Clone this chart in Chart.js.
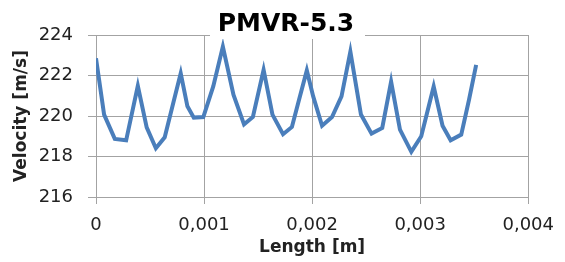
<!DOCTYPE html>
<html>
<head>
<meta charset="utf-8">
<script src="https://cdn.jsdelivr.net/npm/chart.js@4/dist/chart.umd.min.js"></script>
<style>
  html, body { margin: 0; padding: 0; background: #fff; }
  #wrap { width: 565px; height: 262px; }
</style>
</head>
<body>
<div id="wrap"><canvas id="chart" width="565" height="262"></canvas></div>
<script>
// Length along the part [m]
const lengths = [
  0.000000, 0.000075, 0.000174, 0.000279, 0.000387, 0.000469, 0.000554, 0.000636,
  0.000715, 0.000784, 0.000846, 0.000905, 0.000993, 0.001085, 0.001174, 0.001272,
  0.001370, 0.001452, 0.001551, 0.001633, 0.001731, 0.001813, 0.001879, 0.001951,
  0.002010, 0.002092, 0.002184, 0.002272, 0.002354, 0.002452, 0.002550, 0.002649,
  0.002731, 0.002813, 0.002918, 0.003010, 0.003125, 0.003207, 0.003282, 0.003380,
  0.003452, 0.003518
];

// Velocity [m/s]
const velocities = [
  222.85, 220.07, 218.87, 218.80, 221.49, 219.44, 218.41, 218.95,
  220.64, 222.11, 220.48, 219.92, 219.95, 221.46, 223.43, 221.05,
  219.59, 219.95, 222.28, 220.07, 219.10, 219.46, 220.80, 222.25,
  220.97, 219.52, 219.95, 220.97, 223.18, 220.07, 219.13, 219.41,
  221.70, 219.33, 218.23, 219.00, 221.46, 219.52, 218.80, 219.08,
  220.80, 222.52
];

const xTicks = [0, 0.001, 0.002, 0.003, 0.004];
const yTicks = [216, 218, 220, 222, 224];

const chartTitle = 'PMVR-5.3';
const xTitle = 'Length [m]';
const yTitle = 'Velocity [m/s]';

const gridColor = '#a3a3a3';
const lineColor = '#4a7ebb';

// title sits on top of the plot frame with a white box behind it
const titlePlugin = {
    id: 'boxTitle',
    afterDraw(chart) {
        const ctx = chart.ctx;
        ctx.save();
        ctx.fillStyle = '#ffffff';
        ctx.fillRect(210, 29, 155, 10);
        ctx.fillStyle = '#000000';
        ctx.font = 'bold 25px "DejaVu Sans"';
        ctx.textAlign = 'center';
        ctx.textBaseline = 'middle';
        ctx.fillText(chartTitle, 286, 24);
        ctx.restore();
    }
};

const points = lengths.map((x, i) => ({ x: x, y: velocities[i] }));

new Chart(document.getElementById('chart').getContext('2d'), {
    type: 'line',
    data: {
        datasets: [{
            data: points,
            borderColor: lineColor,
            borderWidth: 4,
            pointRadius: 0,
            tension: 0,
            fill: false
        }]
    },
    options: {
        responsive: false,
        animation: false,
        layout: { padding: { top: 35, right: 29, bottom: 0, left: 0 } },
        plugins: {
            legend: { display: false },
            tooltip: { enabled: false },
            title: { display: false }
        },
        scales: {
            x: {
                type: 'linear',
                min: xTicks[0],
                max: xTicks[xTicks.length - 1],
                afterBuildTicks: s => { s.ticks = xTicks.map(v => ({ value: v })); },
                afterFit: s => { s.height = 65; },
                grid: { color: gridColor, lineWidth: 1, tickLength: 7 },
                border: { color: gridColor },
                ticks: {
                    color: '#222',
                    padding: 11,
                    maxRotation: 0,
                    font: { family: 'DejaVu Sans', size: 18 },
                    callback: v => v === 0 ? '0' : v.toFixed(3).replace('.', ',')
                },
                title: {
                    display: true,
                    text: xTitle,
                    color: '#222',
                    font: { family: 'DejaVu Sans', size: 17, weight: 'bold' },
                    padding: { top: 0, bottom: 4 }
                }
            },
            y: {
                min: yTicks[0],
                max: yTicks[yTicks.length - 1],
                afterBuildTicks: s => { s.ticks = yTicks.map(v => ({ value: v })); },
                afterFit: s => { s.width = 96; },
                grid: { color: gridColor, lineWidth: 1, tickLength: 8 },
                border: { color: gridColor },
                ticks: {
                    color: '#222',
                    padding: 15,
                    font: { family: 'DejaVu Sans', size: 18 }
                },
                title: {
                    display: true,
                    text: yTitle,
                    color: '#222',
                    font: { family: 'DejaVu Sans', size: 17, weight: 'bold' },
                    padding: { top: 11, bottom: 0 }
                }
            }
        }
    },
    plugins: [titlePlugin]
});
</script>
</body>
</html>
